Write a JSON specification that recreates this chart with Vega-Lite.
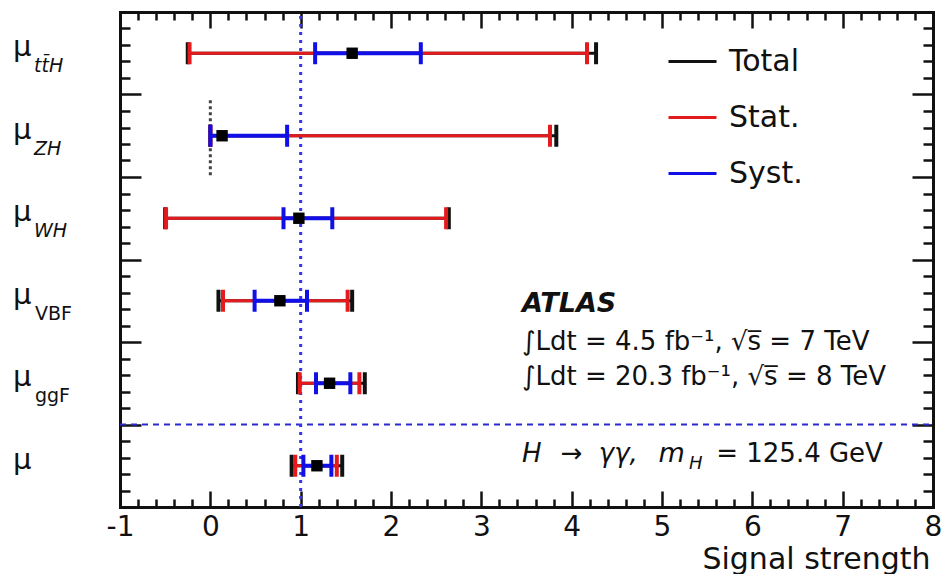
{
  "$schema": "https://vega.github.io/schema/vega-lite/v6.json",
  "width": 813,
  "height": 495,
  "autosize": {"type": "none"},
  "padding": {"left": 120, "top": 12, "right": 11, "bottom": 67},
  "background": "white",
  "config": {
    "view": {"stroke": null},
    "font": "DejaVu Sans",
    "legend": {
      "orient": "none",
      "legendX": 547,
      "legendY": 24,
      "padding": 0,
      "labelFont": "DejaVu Sans",
      "labelFontSize": 30,
      "labelColor": "#111111",
      "symbolType": "stroke",
      "symbolSize": 2304,
      "symbolStrokeWidth": 3,
      "rowPadding": 15,
      "labelOffset": 11
    }
  },
  "data": {"values": [{}]},
  "datasets": {
    "bars": [
      {"proc": "ttH", "y": 5.5, "type": "Total", "lo": -0.25, "hi": 4.27},
      {"proc": "ZH", "y": 4.5, "type": "Total", "lo": 0.0, "hi": 3.83},
      {"proc": "WH", "y": 3.5, "type": "Total", "lo": -0.5, "hi": 2.64},
      {"proc": "VBF", "y": 2.5, "type": "Total", "lo": 0.09, "hi": 1.57},
      {"proc": "ggF", "y": 1.5, "type": "Total", "lo": 0.97, "hi": 1.71},
      {"proc": "mu", "y": 0.5, "type": "Total", "lo": 0.9, "hi": 1.46},
      {"proc": "ttH", "y": 5.5, "type": "Stat.", "lo": -0.23, "hi": 4.17},
      {"proc": "ZH", "y": 4.5, "type": "Stat.", "lo": 0.0, "hi": 3.76},
      {"proc": "WH", "y": 3.5, "type": "Stat.", "lo": -0.49, "hi": 2.61},
      {"proc": "VBF", "y": 2.5, "type": "Stat.", "lo": 0.14, "hi": 1.52},
      {"proc": "ggF", "y": 1.5, "type": "Stat.", "lo": 0.99, "hi": 1.65},
      {"proc": "mu", "y": 0.5, "type": "Stat.", "lo": 0.94, "hi": 1.4},
      {"proc": "ttH", "y": 5.5, "type": "Syst.", "lo": 1.16, "hi": 2.33},
      {"proc": "ZH", "y": 4.5, "type": "Syst.", "lo": 0.0, "hi": 0.85},
      {"proc": "WH", "y": 3.5, "type": "Syst.", "lo": 0.81, "hi": 1.35},
      {"proc": "VBF", "y": 2.5, "type": "Syst.", "lo": 0.49, "hi": 1.07},
      {"proc": "ggF", "y": 1.5, "type": "Syst.", "lo": 1.17, "hi": 1.55},
      {"proc": "mu", "y": 0.5, "type": "Syst.", "lo": 1.03, "hi": 1.34}
    ],
    "centers": [
      {"proc": "ttH", "y": 5.5, "c": 1.57},
      {"proc": "ZH", "y": 4.5, "c": 0.13},
      {"proc": "WH", "y": 3.5, "c": 0.98},
      {"proc": "VBF", "y": 2.5, "c": 0.77},
      {"proc": "ggF", "y": 1.5, "c": 1.32},
      {"proc": "mu", "y": 0.5, "c": 1.18}
    ],
    "rows": [
      {"y": 5.5, "sub": "tt\u0304H"},
      {"y": 4.5, "sub": "ZH"},
      {"y": 3.5, "sub": "WH"},
      {"y": 2.5, "sub": "VBF"},
      {"y": 1.5, "sub": "ggF"},
      {"y": 0.5, "sub": ""}
    ]
  },
  "layer": [
    {
      "mark": {"type": "rule", "stroke": "#2a2ad0", "strokeWidth": 2, "strokeDash": [6, 5]},
      "encoding": {
        "x": {
          "datum": -1, "type": "quantitative",
          "scale": {"domain": [-1, 8], "nice": false, "zero": false},
          "axis": {
            "orient": "bottom",
            "values": [-1,-0.8,-0.6,-0.4,-0.2,0,0.2,0.4,0.6,0.8,1,1.2,1.4,1.6,1.8,2,2.2,2.4,2.6,2.8,3,3.2,3.4,3.6,3.8,4,4.2,4.4,4.6,4.8,5,5.2,5.4,5.6,5.8,6,6.2,6.4,6.6,6.8,7,7.2,7.4,7.6,7.8,8],
            "labelExpr": "datum.value % 1 == 0 ? '' + datum.value : ''",
            "tickSize": {"condition": {"test": "datum.value % 1 == 0", "value": -16}, "value": -8},
            "tickWidth": 2.5,
            "tickColor": "#111111",
            "domainColor": "#111111",
            "domainWidth": 3,
            "domainCap": "square",
            "grid": false,
            "labelFont": "DejaVu Sans",
            "labelFontSize": 28,
            "labelColor": "#111111",
            "labelPadding": 22,
            "labelFlush": false,
            "labelOverlap": false,
            "labelBound": false,
            "title": "Signal strength",
            "titleFont": "DejaVu Sans",
            "titleFontSize": 30,
            "titleFontWeight": "normal",
            "titleColor": "#111111",
            "titleAnchor": "end",
            "titleAlign": "right",
            "titleBaseline": "alphabetic",
            "titleX": 810,
            "titleY": 61
          }
        },
        "x2": {"datum": 8},
        "y": {
          "datum": 1, "type": "quantitative",
          "scale": {"domain": [0, 6], "nice": false, "zero": false},
          "axis": {
            "orient": "left",
            "values": [0,0.2,0.4,0.6,0.8,1,1.2,1.4,1.6,1.8,2,2.2,2.4,2.6,2.8,3,3.2,3.4,3.6,3.8,4,4.2,4.4,4.6,4.8,5,5.2,5.4,5.6,5.8,6],
            "labels": false,
            "tickSize": {"condition": {"test": "datum.value % 1 == 0", "value": -21}, "value": -10},
            "tickWidth": 2.5,
            "tickColor": "#111111",
            "domainColor": "#111111",
            "domainWidth": 3,
            "domainCap": "square",
            "grid": false,
            "title": null
          }
        }
      }
    },
    {
      "mark": {"type": "rule", "stroke": "#3535f0", "strokeWidth": 3, "strokeDash": [3, 5]},
      "encoding": {
        "x": {
          "datum": 1, "type": "quantitative",
          "scale": {"domain": [-1, 8], "nice": false, "zero": false},
          "axis": {
            "orient": "top",
            "values": [-1,-0.8,-0.6,-0.4,-0.2,0,0.2,0.4,0.6,0.8,1,1.2,1.4,1.6,1.8,2,2.2,2.4,2.6,2.8,3,3.2,3.4,3.6,3.8,4,4.2,4.4,4.6,4.8,5,5.2,5.4,5.6,5.8,6,6.2,6.4,6.6,6.8,7,7.2,7.4,7.6,7.8,8],
            "labels": false,
            "tickSize": {"condition": {"test": "datum.value % 1 == 0", "value": -16}, "value": -8},
            "tickWidth": 2.5,
            "tickColor": "#111111",
            "domainColor": "#111111",
            "domainWidth": 3,
            "domainCap": "square",
            "grid": false,
            "title": null
          }
        },
        "y": {
          "datum": 0, "type": "quantitative",
          "scale": {"domain": [0, 6], "nice": false, "zero": false},
          "axis": {
            "orient": "right",
            "values": [0,0.2,0.4,0.6,0.8,1,1.2,1.4,1.6,1.8,2,2.2,2.4,2.6,2.8,3,3.2,3.4,3.6,3.8,4,4.2,4.4,4.6,4.8,5,5.2,5.4,5.6,5.8,6],
            "labels": false,
            "tickSize": {"condition": {"test": "datum.value % 1 == 0", "value": -21}, "value": -10},
            "tickWidth": 2.5,
            "tickColor": "#111111",
            "domainColor": "#111111",
            "domainWidth": 3,
            "domainCap": "square",
            "grid": false,
            "title": null
          }
        },
        "y2": {"datum": 6}
      }
    },
    {
      "mark": {"type": "rule", "stroke": "#444444", "strokeWidth": 3, "strokeDash": [3, 3]},
      "encoding": {
        "x": {"datum": 0, "type": "quantitative", "scale": {"domain": [-1, 8], "nice": false, "zero": false}, "axis": null},
        "y": {"datum": 4.02, "type": "quantitative", "scale": {"domain": [0, 6], "nice": false, "zero": false}, "axis": null},
        "y2": {"datum": 4.95}
      }
    },
    {
      "data": {"name": "bars"},
      "transform": [{"filter": "datum.type == 'Total'"}],
      "encoding": {
        "y": {"field": "y", "type": "quantitative", "scale": {"domain": [0, 6], "nice": false, "zero": false}, "axis": null}
      },
      "layer": [
        {
          "mark": {"type": "rule", "strokeWidth": 3, "strokeCap": "butt"},
          "encoding": {
            "x": {"field": "lo", "type": "quantitative", "scale": {"domain": [-1, 8], "nice": false, "zero": false}, "axis": null},
            "x2": {"field": "hi"},
            "color": {"field": "type", "type": "nominal", "scale": {"domain": ["Total", "Stat.", "Syst."], "range": ["#111111", "#e41a1c", "#1010e6"]}, "legend": {"title": null}}
          }
        },
        {
          "mark": {"type": "tick", "orient": "vertical", "size": 22, "thickness": 4, "opacity": 1},
          "encoding": {
            "x": {"field": "lo", "type": "quantitative", "scale": {"domain": [-1, 8], "nice": false, "zero": false}, "axis": null},
            "color": {"field": "type", "type": "nominal", "scale": {"domain": ["Total", "Stat.", "Syst."], "range": ["#111111", "#e41a1c", "#1010e6"]}, "legend": null}
          }
        },
        {
          "mark": {"type": "tick", "orient": "vertical", "size": 22, "thickness": 4, "opacity": 1},
          "encoding": {
            "x": {"field": "hi", "type": "quantitative", "scale": {"domain": [-1, 8], "nice": false, "zero": false}, "axis": null},
            "color": {"field": "type", "type": "nominal", "scale": {"domain": ["Total", "Stat.", "Syst."], "range": ["#111111", "#e41a1c", "#1010e6"]}, "legend": null}
          }
        }
      ]
    },
    {
      "data": {"name": "bars"},
      "transform": [{"filter": "datum.type == 'Stat.'"}],
      "encoding": {
        "y": {"field": "y", "type": "quantitative", "scale": {"domain": [0, 6], "nice": false, "zero": false}, "axis": null}
      },
      "layer": [
        {
          "mark": {"type": "rule", "strokeWidth": 3, "strokeCap": "butt"},
          "encoding": {
            "x": {"field": "lo", "type": "quantitative", "scale": {"domain": [-1, 8], "nice": false, "zero": false}, "axis": null},
            "x2": {"field": "hi"},
            "color": {"field": "type", "type": "nominal", "scale": {"domain": ["Total", "Stat.", "Syst."], "range": ["#111111", "#e41a1c", "#1010e6"]}, "legend": {"title": null}}
          }
        },
        {
          "mark": {"type": "tick", "orient": "vertical", "size": 22, "thickness": 4, "opacity": 1},
          "encoding": {
            "x": {"field": "lo", "type": "quantitative", "scale": {"domain": [-1, 8], "nice": false, "zero": false}, "axis": null},
            "color": {"field": "type", "type": "nominal", "scale": {"domain": ["Total", "Stat.", "Syst."], "range": ["#111111", "#e41a1c", "#1010e6"]}, "legend": null}
          }
        },
        {
          "mark": {"type": "tick", "orient": "vertical", "size": 22, "thickness": 4, "opacity": 1},
          "encoding": {
            "x": {"field": "hi", "type": "quantitative", "scale": {"domain": [-1, 8], "nice": false, "zero": false}, "axis": null},
            "color": {"field": "type", "type": "nominal", "scale": {"domain": ["Total", "Stat.", "Syst."], "range": ["#111111", "#e41a1c", "#1010e6"]}, "legend": null}
          }
        }
      ]
    },
    {
      "data": {"name": "bars"},
      "transform": [{"filter": "datum.type == 'Syst.'"}],
      "encoding": {
        "y": {"field": "y", "type": "quantitative", "scale": {"domain": [0, 6], "nice": false, "zero": false}, "axis": null}
      },
      "layer": [
        {
          "mark": {"type": "rule", "strokeWidth": 4, "strokeCap": "butt"},
          "encoding": {
            "x": {"field": "lo", "type": "quantitative", "scale": {"domain": [-1, 8], "nice": false, "zero": false}, "axis": null},
            "x2": {"field": "hi"},
            "color": {"field": "type", "type": "nominal", "scale": {"domain": ["Total", "Stat.", "Syst."], "range": ["#111111", "#e41a1c", "#1010e6"]}, "legend": {"title": null}}
          }
        },
        {
          "mark": {"type": "tick", "orient": "vertical", "size": 22, "thickness": 4, "opacity": 1},
          "encoding": {
            "x": {"field": "lo", "type": "quantitative", "scale": {"domain": [-1, 8], "nice": false, "zero": false}, "axis": null},
            "color": {"field": "type", "type": "nominal", "scale": {"domain": ["Total", "Stat.", "Syst."], "range": ["#111111", "#e41a1c", "#1010e6"]}, "legend": null}
          }
        },
        {
          "mark": {"type": "tick", "orient": "vertical", "size": 22, "thickness": 4, "opacity": 1},
          "encoding": {
            "x": {"field": "hi", "type": "quantitative", "scale": {"domain": [-1, 8], "nice": false, "zero": false}, "axis": null},
            "color": {"field": "type", "type": "nominal", "scale": {"domain": ["Total", "Stat.", "Syst."], "range": ["#111111", "#e41a1c", "#1010e6"]}, "legend": null}
          }
        }
      ]
    },
    {
      "data": {"name": "centers"},
      "mark": {"type": "square", "size": 130, "color": "#000000", "filled": true, "opacity": 1},
      "encoding": {
        "x": {"field": "c", "type": "quantitative", "scale": {"domain": [-1, 8], "nice": false, "zero": false}, "axis": null},
        "y": {"field": "y", "type": "quantitative", "scale": {"domain": [0, 6], "nice": false, "zero": false}, "axis": null}
      }
    },
    {
      "data": {"name": "rows"},
      "mark": {"type": "text", "text": "μ", "align": "left", "baseline": "alphabetic", "dx": -107, "dy": 3, "fontSize": 29, "font": "DejaVu Sans", "color": "#111111"},
      "encoding": {
        "x": {"datum": -1, "type": "quantitative", "scale": {"domain": [-1, 8], "nice": false, "zero": false}, "axis": null},
        "y": {"field": "y", "type": "quantitative", "scale": {"domain": [0, 6], "nice": false, "zero": false}, "axis": null}
      }
    },
    {
      "data": {"name": "rows"},
      "transform": [{"filter": "datum.y > 3"}],
      "mark": {"type": "text", "align": "left", "baseline": "alphabetic", "dx": -86, "dy": 19, "fontSize": 19, "fontStyle": "italic", "font": "DejaVu Sans", "color": "#111111"},
      "encoding": {
        "text": {"field": "sub"},
        "x": {"datum": -1, "type": "quantitative", "scale": {"domain": [-1, 8], "nice": false, "zero": false}, "axis": null},
        "y": {"field": "y", "type": "quantitative", "scale": {"domain": [0, 6], "nice": false, "zero": false}, "axis": null}
      }
    },
    {
      "data": {"name": "rows"},
      "transform": [{"filter": "datum.y > 1 && datum.y < 3"}],
      "mark": {"type": "text", "align": "left", "baseline": "alphabetic", "dx": -85, "dy": 19, "fontSize": 19, "font": "DejaVu Sans", "color": "#111111"},
      "encoding": {
        "text": {"field": "sub"},
        "x": {"datum": -1, "type": "quantitative", "scale": {"domain": [-1, 8], "nice": false, "zero": false}, "axis": null},
        "y": {"field": "y", "type": "quantitative", "scale": {"domain": [0, 6], "nice": false, "zero": false}, "axis": null}
      }
    },
    {
      "mark": {"type": "text", "text": "ATLAS", "align": "left", "baseline": "alphabetic", "fontSize": 27, "fontWeight": "bold", "fontStyle": "italic", "font": "DejaVu Sans", "color": "#111111"},
      "encoding": {
        "x": {"datum": 3.45, "type": "quantitative", "scale": {"domain": [-1, 8], "nice": false, "zero": false}, "axis": null},
        "y": {"datum": 2.364, "type": "quantitative", "scale": {"domain": [0, 6], "nice": false, "zero": false}, "axis": null}
      }
    },
    {
      "mark": {"type": "text", "text": "∫Ldt = 4.5 fb⁻¹, √s̅ = 7 TeV", "align": "left", "baseline": "alphabetic", "fontSize": 26, "font": "DejaVu Sans", "color": "#111111"},
      "encoding": {
        "x": {"datum": 3.45, "type": "quantitative", "scale": {"domain": [-1, 8], "nice": false, "zero": false}, "axis": null},
        "y": {"datum": 1.903, "type": "quantitative", "scale": {"domain": [0, 6], "nice": false, "zero": false}, "axis": null}
      }
    },
    {
      "mark": {"type": "text", "text": "∫Ldt = 20.3 fb⁻¹, √s̅ = 8 TeV", "align": "left", "baseline": "alphabetic", "fontSize": 26, "font": "DejaVu Sans", "color": "#111111"},
      "encoding": {
        "x": {"datum": 3.45, "type": "quantitative", "scale": {"domain": [-1, 8], "nice": false, "zero": false}, "axis": null},
        "y": {"datum": 1.479, "type": "quantitative", "scale": {"domain": [0, 6], "nice": false, "zero": false}, "axis": null}
      }
    },
    {
      "mark": {"type": "text", "text": "H", "align": "left", "baseline": "alphabetic", "fontSize": 26, "fontStyle": "italic", "font": "DejaVu Sans", "color": "#111111"},
      "encoding": {
        "x": {"datum": 3.451, "type": "quantitative", "scale": {"domain": [-1, 8], "nice": false, "zero": false}, "axis": null},
        "y": {"datum": 0.545, "type": "quantitative", "scale": {"domain": [0, 6], "nice": false, "zero": false}, "axis": null}
      }
    },
    {
      "mark": {"type": "text", "text": "→", "align": "left", "baseline": "alphabetic", "fontSize": 26, "font": "DejaVu Sans", "color": "#111111"},
      "encoding": {
        "x": {"datum": 3.88, "type": "quantitative", "scale": {"domain": [-1, 8], "nice": false, "zero": false}, "axis": null},
        "y": {"datum": 0.545, "type": "quantitative", "scale": {"domain": [0, 6], "nice": false, "zero": false}, "axis": null}
      }
    },
    {
      "mark": {"type": "text", "text": "γγ,", "align": "left", "baseline": "alphabetic", "fontSize": 26, "fontStyle": "italic", "font": "DejaVu Sans", "color": "#111111"},
      "encoding": {
        "x": {"datum": 4.3, "type": "quantitative", "scale": {"domain": [-1, 8], "nice": false, "zero": false}, "axis": null},
        "y": {"datum": 0.545, "type": "quantitative", "scale": {"domain": [0, 6], "nice": false, "zero": false}, "axis": null}
      }
    },
    {
      "mark": {"type": "text", "text": "m", "align": "left", "baseline": "alphabetic", "fontSize": 27, "fontStyle": "italic", "font": "DejaVu Sans", "color": "#111111"},
      "encoding": {
        "x": {"datum": 4.96, "type": "quantitative", "scale": {"domain": [-1, 8], "nice": false, "zero": false}, "axis": null},
        "y": {"datum": 0.545, "type": "quantitative", "scale": {"domain": [0, 6], "nice": false, "zero": false}, "axis": null}
      }
    },
    {
      "mark": {"type": "text", "text": "H", "align": "left", "baseline": "alphabetic", "fontSize": 18, "fontStyle": "italic", "font": "DejaVu Sans", "color": "#111111"},
      "encoding": {
        "x": {"datum": 5.3, "type": "quantitative", "scale": {"domain": [-1, 8], "nice": false, "zero": false}, "axis": null},
        "y": {"datum": 0.46, "type": "quantitative", "scale": {"domain": [0, 6], "nice": false, "zero": false}, "axis": null}
      }
    },
    {
      "mark": {"type": "text", "text": "= 125.4 GeV", "align": "left", "baseline": "alphabetic", "fontSize": 26, "font": "DejaVu Sans", "color": "#111111"},
      "encoding": {
        "x": {"datum": 5.6, "type": "quantitative", "scale": {"domain": [-1, 8], "nice": false, "zero": false}, "axis": null},
        "y": {"datum": 0.545, "type": "quantitative", "scale": {"domain": [0, 6], "nice": false, "zero": false}, "axis": null}
      }
    }
  ],
  "resolve": {"axis": {"x": "independent", "y": "independent"}}
}
